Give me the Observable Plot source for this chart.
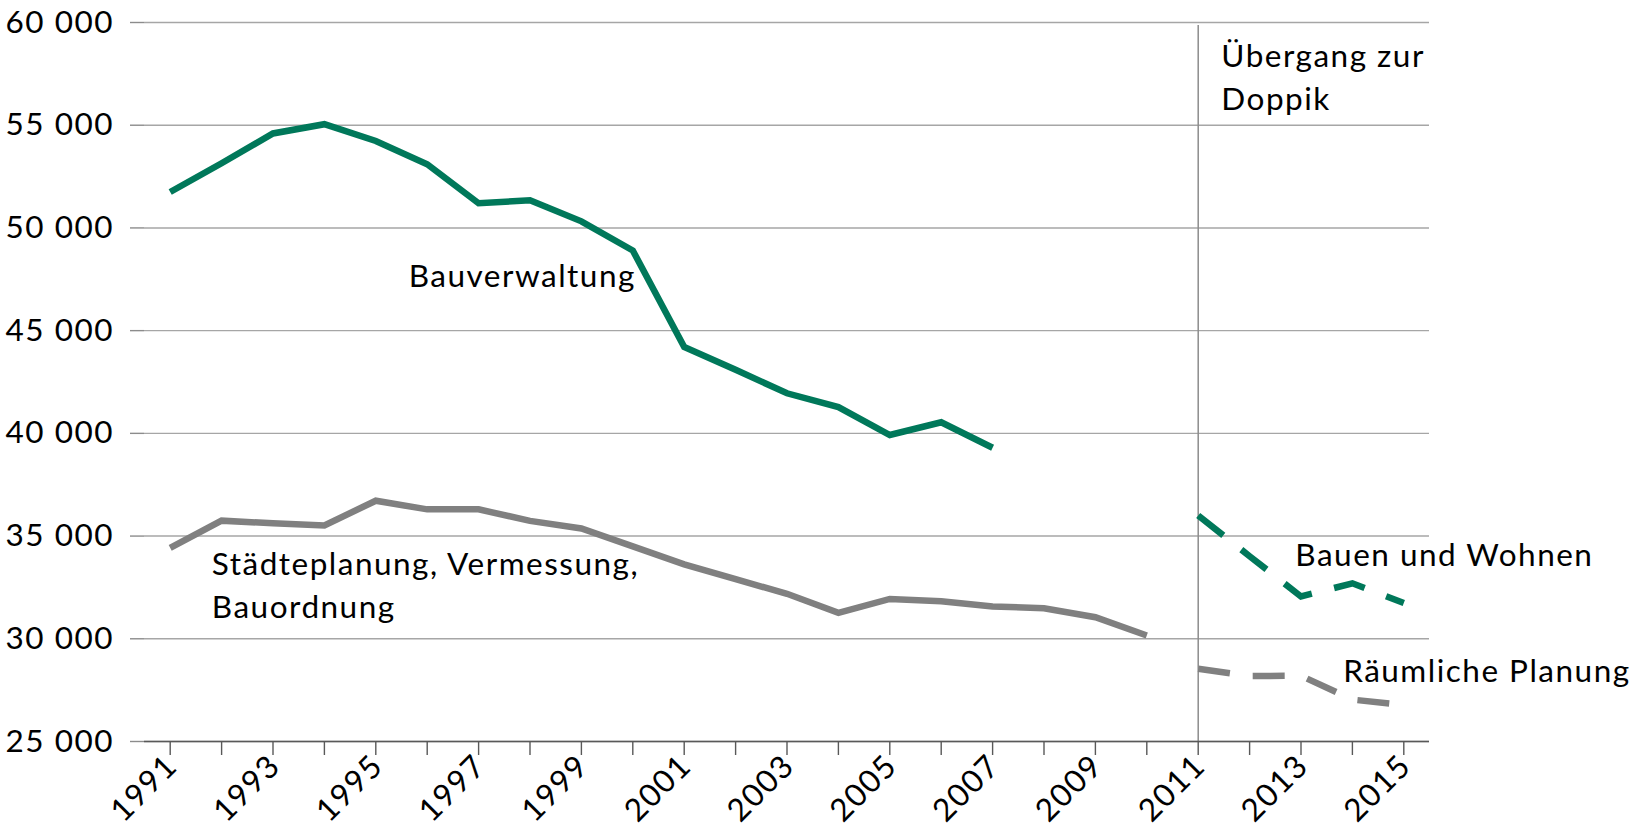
<!DOCTYPE html>
<html>
<head>
<meta charset="utf-8">
<script src="https://cdn.jsdelivr.net/npm/d3@7"></script>
<script src="https://cdn.jsdelivr.net/npm/@observablehq/plot@0.6"></script>
<style>
  html, body { margin: 0; padding: 0; background: #fff; }
  #chart svg { display: block; font-family: Lato, "Open Sans", sans-serif; letter-spacing: 1.5px; }
</style>
</head>
<body>
<div id="chart"></div>
<script>
// ---- data ----
const yearsBauverwaltung = [1991,1992,1993,1994,1995,1996,1997,1998,1999,2000,2001,2002,2003,2004,2005,2006,2007];
const bauverwaltung = [51750,53150,54600,55050,54230,53100,51200,51350,50320,48900,44200,43100,41950,41280,39920,40540,39300];

const yearsStaedteplanung = [1991,1992,1993,1994,1995,1996,1997,1998,1999,2000,2001,2002,2003,2004,2005,2006,2007,2008,2009,2010];
const staedteplanung = [34420,35750,35620,35520,36720,36300,36300,35740,35370,34500,33620,32900,32190,31260,31940,31830,31570,31490,31050,30160];

const yearsDoppik = [2011,2012,2013,2014,2015];
const bauenUndWohnen = [36000,34020,32060,32700,31740];
const raeumlichePlanung = [28540,28190,28200,27040,26780];

const allYears = [1991,1992,1993,1994,1995,1996,1997,1998,1999,2000,2001,2002,2003,2004,2005,2006,2007,2008,2009,2010,2011,2012,2013,2014,2015];
const labelYears = [1991,1993,1995,1997,1999,2001,2003,2005,2007,2009,2011,2013,2015];
const yTicks = [25000,30000,35000,40000,45000,50000,55000,60000];
const doppikYear = [2011];

// annotation labels (data-space anchors)
const seriesLabels = [
  {text: "Bauverwaltung", year: 1995.64, value: 47590},
  {text: "Städteplanung, Vermessung,\nBauordnung", year: 1991.81, value: 32520},
  {text: "Übergang zur\nDoppik", year: 2011.45, value: 57280},
  {text: "Bauen und Wohnen", year: 2012.89, value: 34020},
  {text: "Räumliche Planung", year: 2013.82, value: 28360}
];

// ---- colours / styles ----
const green = "#00785a";
const grey = "#808080";
const FS = 31.5;

const toRows = (xs, vs) => xs.map((x, i) => ({year: x, value: vs[i]}));
const fmt = d => d3.format(",")(d).replace(/,/g, " ");
const lineStyle = {strokeWidth: 6.5, strokeLinecap: "butt", strokeLinejoin: "miter", strokeMiterlimit: 4};

const chart = Plot.plot({
  width: 1641,
  height: 825,
  marginLeft: 144,
  marginRight: 212,
  marginTop: 22,
  marginBottom: 84,
  style: {fontFamily: "Lato, 'Open Sans', sans-serif", background: "#fff", overflow: "visible"},
  x: {type: "linear", domain: [1990.5, 2015.5], axis: null},
  y: {type: "linear", domain: [25000, 60000], axis: null},
  marks: [
    Plot.gridY(yTicks, {stroke: "#a6a6a6", strokeOpacity: 1, strokeWidth: 1.4}),
    Plot.axisY(yTicks, {label: null, tickSize: 14, tickPadding: 16.5, tickFormat: fmt, fontSize: FS, stroke: "#8c8c8c", fill: "#000", strokeWidth: 1.4}),
    Plot.ruleX(doppikYear, {stroke: "#8c8c8c", strokeWidth: 1.5, insetTop: 3}),
    Plot.ruleY([25000], {stroke: "#595959", strokeWidth: 1.6}),
    Plot.axisX(allYears, {label: null, tickSize: 14, tickFormat: () => "", stroke: "#595959", strokeWidth: 1.4}),
    Plot.axisX(labelYears, {label: null, tickSize: 0, tickPadding: 19, tickRotate: -45, textAnchor: "end", lineAnchor: "middle", tickFormat: d => String(d), fontSize: FS, fill: "#000", dx: 2}),
    Plot.line(toRows(yearsStaedteplanung, staedteplanung), {x: "year", y: "value", stroke: grey, ...lineStyle}),
    Plot.line(toRows(yearsBauverwaltung, bauverwaltung), {x: "year", y: "value", stroke: green, ...lineStyle}),
    Plot.line(toRows(yearsDoppik, raeumlichePlanung), {x: "year", y: "value", stroke: grey, strokeDasharray: "32,23", ...lineStyle}),
    Plot.line(toRows(yearsDoppik, bauenUndWohnen), {x: "year", y: "value", stroke: green, strokeDasharray: "32,23", ...lineStyle}),
    Plot.text(seriesLabels, {x: "year", y: "value", text: "text", textAnchor: "start", lineAnchor: "middle", lineHeight: 1.37, fontSize: FS, fill: "#000", dy: -4})
  ]
});
document.getElementById("chart").appendChild(chart);
</script>
</body>
</html>
